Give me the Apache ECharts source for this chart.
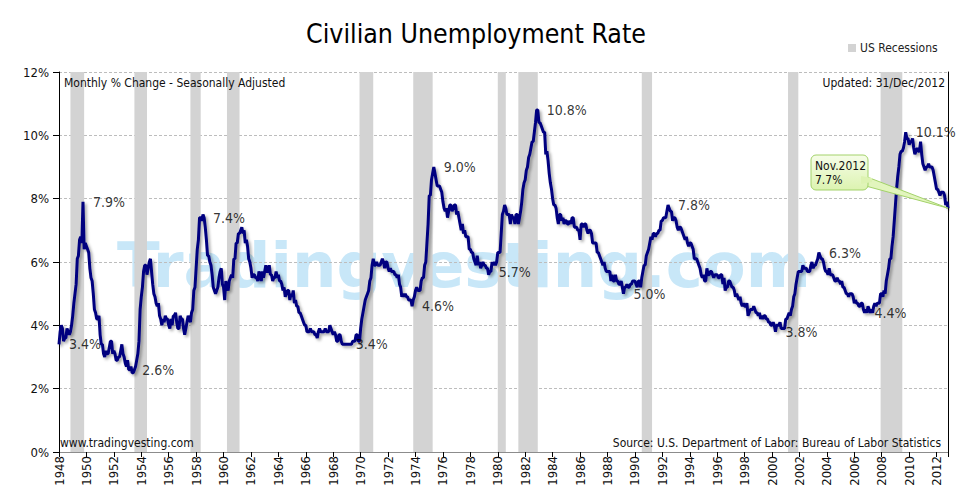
<!DOCTYPE html>
<html>
<head>
<meta charset="utf-8">
<script src="https://cdn.jsdelivr.net/npm/echarts@6/dist/echarts.min.js"></script>
<style>
html,body{margin:0;padding:0;background:#fff;}
#main{width:970px;height:500px;}
</style>
</head>
<body>
<div id="main"></div>
<script>
// Civilian unemployment rate (%), monthly, seasonally adjusted, Jan 1948 – Nov 2012
const startYear = 1948;
const rate1940s = [
/*1948*/3.4,3.8,4.0,3.9,3.5,3.6,3.6,3.9,3.8,3.7,3.8,4.0,
/*1949*/4.3,4.7,5.0,5.3,6.1,6.2,6.7,6.8,6.6,7.9,6.4,6.6
];
const rate1950s = [
/*1950*/6.5,6.4,6.3,5.8,5.5,5.4,5.0,4.5,4.4,4.2,4.2,4.3,
/*1951*/3.7,3.4,3.4,3.1,3.0,3.2,3.1,3.1,3.3,3.5,3.5,3.1,
/*1952*/3.2,3.1,2.9,2.9,3.0,3.0,3.2,3.4,3.1,3.0,2.8,2.7,
/*1953*/2.9,2.6,2.6,2.7,2.5,2.5,2.6,2.7,2.9,3.1,3.5,4.5,
/*1954*/4.9,5.2,5.7,5.9,5.9,5.6,5.8,6.0,6.1,5.7,5.3,5.0,
/*1955*/4.9,4.7,4.6,4.7,4.3,4.2,4.0,4.2,4.1,4.3,4.2,4.2,
/*1956*/4.0,3.9,4.2,4.0,4.3,4.3,4.4,4.1,3.9,3.9,4.3,4.2,
/*1957*/4.2,3.9,3.7,3.9,4.1,4.3,4.2,4.1,4.4,4.5,5.1,5.2,
/*1958*/5.8,6.4,6.7,7.4,7.4,7.3,7.5,7.4,7.1,6.7,6.2,6.2,
/*1959*/6.0,5.9,5.6,5.2,5.1,5.0,5.1,5.2,5.5,5.7,5.8,5.3
];
const rate1960s = [
/*1960*/5.2,4.8,5.4,5.2,5.1,5.4,5.5,5.6,5.5,6.1,6.1,6.6,
/*1961*/6.6,6.9,6.9,7.0,7.1,6.9,7.0,6.6,6.7,6.5,6.1,6.0,
/*1962*/5.8,5.5,5.6,5.6,5.5,5.5,5.4,5.7,5.6,5.4,5.7,5.5,
/*1963*/5.7,5.9,5.7,5.7,5.9,5.6,5.6,5.4,5.5,5.5,5.7,5.5,
/*1964*/5.6,5.4,5.4,5.3,5.1,5.2,4.9,5.0,5.1,5.1,4.8,5.0,
/*1965*/4.9,5.1,4.7,4.8,4.6,4.6,4.4,4.4,4.3,4.2,4.1,4.0,
/*1966*/4.0,3.8,3.8,3.8,3.9,3.8,3.8,3.8,3.7,3.7,3.6,3.8,
/*1967*/3.9,3.8,3.8,3.8,3.8,3.9,3.8,3.8,3.8,4.0,3.9,3.8,
/*1968*/3.7,3.8,3.7,3.5,3.5,3.7,3.7,3.5,3.4,3.4,3.4,3.4,
/*1969*/3.4,3.4,3.4,3.4,3.4,3.5,3.5,3.5,3.7,3.7,3.5,3.5
];
const rate1970s = [
/*1970*/3.9,4.2,4.4,4.6,4.8,4.9,5.0,5.1,5.4,5.5,5.9,6.1,
/*1971*/5.9,5.9,6.0,5.9,5.9,5.9,6.0,6.1,6.0,5.8,6.0,6.0,
/*1972*/5.8,5.7,5.8,5.7,5.7,5.7,5.6,5.6,5.5,5.6,5.3,5.2,
/*1973*/4.9,5.0,4.9,5.0,4.9,4.9,4.8,4.8,4.8,4.6,4.8,4.9,
/*1974*/5.1,5.2,5.1,5.1,5.1,5.4,5.5,5.5,5.9,6.0,6.6,7.2,
/*1975*/8.1,8.1,8.6,8.8,9.0,8.8,8.6,8.4,8.4,8.4,8.3,8.2,
/*1976*/7.9,7.7,7.6,7.7,7.4,7.6,7.8,7.8,7.6,7.7,7.8,7.8,
/*1977*/7.5,7.6,7.4,7.2,7.0,7.2,6.9,7.0,6.8,6.8,6.8,6.4,
/*1978*/6.4,6.3,6.3,6.1,6.0,5.9,6.2,5.9,6.0,5.8,5.9,6.0,
/*1979*/5.9,5.9,5.8,5.8,5.6,5.7,5.7,6.0,5.9,6.0,5.9,6.0
];
const rate1980s = [
/*1980*/6.3,6.3,6.3,6.9,7.5,7.6,7.8,7.7,7.5,7.5,7.5,7.2,
/*1981*/7.5,7.4,7.4,7.2,7.5,7.5,7.2,7.4,7.6,7.9,8.3,8.5,
/*1982*/8.6,8.9,9.0,9.3,9.4,9.6,9.8,9.8,10.1,10.4,10.8,10.8,
/*1983*/10.4,10.4,10.3,10.2,10.1,10.1,9.4,9.5,9.2,8.8,8.5,8.3,
/*1984*/8.0,7.8,7.8,7.7,7.4,7.2,7.5,7.5,7.3,7.4,7.2,7.3,
/*1985*/7.3,7.2,7.2,7.3,7.2,7.4,7.4,7.1,7.1,7.1,7.0,7.0,
/*1986*/6.7,7.2,7.2,7.1,7.2,7.2,7.0,6.9,7.0,7.0,6.9,6.6,
/*1987*/6.6,6.6,6.6,6.3,6.3,6.2,6.1,6.0,5.9,6.0,5.8,5.7,
/*1988*/5.7,5.7,5.7,5.4,5.6,5.4,5.4,5.6,5.4,5.4,5.3,5.3,
/*1989*/5.4,5.2,5.0,5.2,5.2,5.3,5.2,5.2,5.3,5.3,5.4,5.4
];
const rate1990s = [
/*1990*/5.4,5.3,5.2,5.4,5.4,5.2,5.5,5.7,5.9,5.9,6.2,6.3,
/*1991*/6.4,6.6,6.8,6.7,6.9,6.9,6.8,6.9,6.9,7.0,7.0,7.3,
/*1992*/7.3,7.4,7.4,7.4,7.6,7.8,7.7,7.6,7.6,7.3,7.4,7.4,
/*1993*/7.3,7.1,7.0,7.1,7.1,7.0,6.9,6.8,6.7,6.8,6.6,6.5,
/*1994*/6.6,6.6,6.5,6.4,6.1,6.1,6.1,6.0,5.9,5.8,5.6,5.5,
/*1995*/5.6,5.4,5.4,5.8,5.6,5.6,5.7,5.7,5.6,5.5,5.6,5.6,
/*1996*/5.6,5.5,5.5,5.6,5.6,5.3,5.5,5.1,5.2,5.2,5.4,5.4,
/*1997*/5.3,5.2,5.2,5.1,4.9,5.0,4.9,4.8,4.9,4.7,4.6,4.7,
/*1998*/4.6,4.6,4.7,4.3,4.4,4.5,4.5,4.5,4.6,4.5,4.4,4.4,
/*1999*/4.3,4.4,4.2,4.3,4.2,4.3,4.3,4.2,4.2,4.1,4.1,4.0
];
const rate2000s = [
/*2000*/4.0,4.1,4.0,3.8,4.0,4.0,4.0,4.1,3.9,3.9,3.9,3.9,
/*2001*/4.2,4.2,4.3,4.4,4.3,4.5,4.6,4.9,5.0,5.3,5.5,5.7,
/*2002*/5.7,5.7,5.7,5.9,5.8,5.8,5.8,5.7,5.7,5.7,5.9,6.0,
/*2003*/5.8,5.9,5.9,6.0,6.1,6.3,6.2,6.1,6.1,6.0,5.8,5.7,
/*2004*/5.7,5.6,5.8,5.6,5.6,5.6,5.5,5.4,5.4,5.5,5.4,5.4,
/*2005*/5.3,5.4,5.2,5.2,5.1,5.0,5.0,4.9,5.0,5.0,5.0,4.9,
/*2006*/4.7,4.8,4.7,4.7,4.6,4.6,4.7,4.7,4.5,4.4,4.5,4.4,
/*2007*/4.6,4.5,4.4,4.5,4.4,4.6,4.7,4.6,4.7,4.7,4.7,5.0,
/*2008*/5.0,4.9,5.1,5.0,5.4,5.6,5.8,6.1,6.1,6.5,6.8,7.3,
/*2009*/7.8,8.3,8.7,9.0,9.4,9.5,9.5,9.6,9.8,10.1,9.9,9.9
];
const rate2010s = [
/*2010*/9.7,9.8,9.8,9.9,9.6,9.4,9.5,9.6,9.5,9.5,9.8,9.4,
/*2011*/9.1,9.0,8.9,9.0,9.0,9.1,9.0,9.0,9.0,8.9,8.7,8.5,
/*2012*/8.3,8.3,8.2,8.1,8.2,8.2,8.2,8.1,7.8,7.9,7.7
];

// NBER recessions (first month, last month)
const recessionStart = ['1948-11','1953-07','1957-08','1960-04','1969-12','1973-11','1980-01','1981-07','1990-07','2001-03','2007-12'];
const recessionEnd   = ['1949-10','1954-05','1958-04','1961-02','1970-11','1975-03','1980-07','1982-11','1991-03','2001-11','2009-06'];

// Annotated values
const annotDates  = ['1948-01','1949-10','1953-05','1958-07','1968-12','1973-10','1975-05','1979-05','1982-11','1989-03','1992-06','2000-04','2003-06','2006-10','2009-10'];
const annotValues = [3.4, 7.9, 2.6, 7.4, 3.4, 4.6, 9.0, 5.7, 10.8, 5.0, 7.8, 3.8, 6.3, 4.4, 10.1];

// Axis ticks
const yMin = 0, yMax = 12, yStep = 2;
const xStep = 2;

const rates = [].concat(rate1940s, rate1950s, rate1960s, rate1970s, rate1980s, rate1990s, rate2000s, rate2010s);
const lineData = rates.map((v, i) => [startYear + i / 12, v]);
const lastPoint = lineData[lineData.length - 1];

function ym(s, endOfMonth) {
  const p = s.split('-');
  return +p[0] + (+p[1] - (endOfMonth ? 0 : 1)) / 12;
}
const monthNames = ['Jan','Feb','Mar','Apr','May','Jun','Jul','Aug','Sep','Oct','Nov','Dec'];

const FONT = "'DejaVu Sans Condensed', 'DejaVu Sans', sans-serif";

const chart = echarts.init(document.getElementById('main'), null, {renderer: 'svg'});

chart.setOption({
  animation: false,
  backgroundColor: '#ffffff',
  textStyle: {fontFamily: FONT},
  title: {
    text: 'Civilian Unemployment Rate',
    left: 471, top: 15, textAlign: 'center',
    textStyle: {fontFamily: FONT, fontSize: 26.5, fontWeight: 'normal', color: '#000'}
  },
  legend: {
    data: [{name: 'US Recessions', icon: 'rect'}],
    left: 843, top: 37,
    itemWidth: 8, itemHeight: 8, itemGap: 3,
    textStyle: {fontFamily: FONT, fontSize: 12, color: '#222', padding: [0,0,0,-1]}
  },
  grid: {left: 59, right: 22, top: 72, bottom: 48, containLabel: false},
  xAxis: [{
    type: 'value', min: startYear, max: lastPoint[0], interval: xStep,
    axisLine: {show: true, lineStyle: {color: '#000', width: 1}},
    axisTick: {show: true, length: 5, lineStyle: {color: '#000'}},
    axisLabel: {rotate: 90, fontSize: 13, color: '#111', margin: 4, fontFamily: FONT,
      formatter: v => (Math.abs(v - Math.round(v)) < 1e-6 ? String(Math.round(v)) : '')},
    splitLine: {show: false}
  }, {
    type: 'value', position: 'top', min: startYear, max: lastPoint[0],
    axisLine: {show: true, lineStyle: {color: '#8c8c8c', width: 1}},
    axisTick: {show: false}, axisLabel: {show: false}, splitLine: {show: false}
  }],
  yAxis: [{
    type: 'value', min: yMin, max: yMax, interval: yStep,
    axisLine: {show: true, lineStyle: {color: '#000', width: 1}},
    axisTick: {show: true, length: 6, lineStyle: {color: '#000'}},
    axisLabel: {formatter: '{value}%', fontSize: 13, color: '#111', margin: 10, fontFamily: FONT},
    splitLine: {show: true, lineStyle: {color: '#bdbdbd', type: [3, 2], width: 1}}
  }, {
    type: 'value', position: 'right', min: yMin, max: yMax,
    axisLine: {show: true, lineStyle: {color: '#000', width: 1}},
    axisTick: {show: false}, axisLabel: {show: false}, splitLine: {show: false}
  }],
  series: [{
    name: 'US Recessions', type: 'line', data: [], color: '#d3d3d3',
    itemStyle: {color: '#d3d3d3'}, silent: true,
    markArea: {
      silent: true,
      itemStyle: {color: '#d3d3d3', opacity: 1},
      data: recessionStart.map((s, i) => [{xAxis: ym(s, false)}, {xAxis: ym(recessionEnd[i], true)}])
    }
  }, {
    name: 'Unemployment', type: 'line', data: lineData, showSymbol: false, symbol: 'none',
    lineStyle: {color: '#00007f', width: 3, shadowColor: 'rgba(0,0,0,0.35)', shadowBlur: 3, shadowOffsetX: 2, shadowOffsetY: 2},
    z: 5, silent: true
  }, {
    name: 'Labels', type: 'scatter', symbolSize: 0, z: 6, silent: true,
    data: annotDates.map((d, i) => [ym(d, false), annotValues[i]]),
    label: {show: true, position: 'right', distance: 10, fontSize: 14, color: '#000', fontFamily: FONT,
      formatter: p => p.value[1].toFixed(1) + '%'}
  }]
});

// Graphics: watermark, notes, and callout for the latest value
const tip = chart.convertToPixel({xAxisIndex: 0, yAxisIndex: 0}, lastPoint);
const lastIdx = rates.length - 1;
const lastMonth = monthNames[lastIdx % 12] + '.' + (startYear + Math.floor(lastIdx / 12));
const boxX = 811, boxY = 155, boxW = 57, boxH = 35;
const fillGrad = new echarts.graphic.LinearGradient(0, 0, 0, 1, [{offset: 0, color: '#f6fde8'}, {offset: 1, color: '#dcf3b0'}]);
chart.setOption({
  graphic: [{
    id: 'wm', type: 'text', left: 117, top: 234, z: -10, silent: true,
    style: {text: 'Tradingvesting.com', font: "bold 62.5px 'DejaVu Sans', sans-serif", fill: '#c8e7f8'}
  }, {
    id: 'n1', type: 'text', left: 64, top: 77, z: 50, silent: true,
    style: {text: 'Monthly % Change - Seasonally Adjusted', font: "12px " + FONT, fill: '#111'}
  }, {
    id: 'n2', type: 'text', right: 25, top: 77, z: 50, silent: true,
    style: {text: 'Updated: 31/Dec/2012', font: "12px " + FONT, fill: '#111'}
  }, {
    id: 'n3', type: 'text', left: 60, top: 437, z: 50, silent: true,
    style: {text: 'www.tradingvesting.com', font: "12px " + FONT, fill: '#111'}
  }, {
    id: 'n4', type: 'text', right: 29, top: 437, z: 50, silent: true,
    style: {text: 'Source: U.S. Department of Labor: Bureau of Labor Statistics', font: "12px " + FONT, fill: '#111'}
  }, {
    id: 'cp', type: 'polygon', z: 60, silent: true,
    shape: {points: [[boxX + boxW - 6, boxY + 20], [boxX + boxW - 6, boxY + 30], tip]},
    style: {fill: '#e2f5bd', stroke: '#a3d26a', lineWidth: 1}
  }, {
    id: 'cb', type: 'rect', z: 61, silent: true,
    shape: {x: boxX, y: boxY, width: boxW, height: boxH, r: 5},
    style: {fill: fillGrad, stroke: '#a3d26a', lineWidth: 1}
  }, {
    id: 'cj', type: 'polygon', z: 62, silent: true,
    shape: {points: [[boxX + boxW - 7, boxY + 21], [boxX + boxW - 7, boxY + 29], [boxX + boxW + 4, boxY + 27], [boxX + boxW + 4, boxY + 23]]},
    style: {fill: '#ddf3b2'}
  }, {
    id: 'ct', type: 'text', z: 63, silent: true, left: boxX + 4, top: boxY + 4,
    style: {text: lastMonth + '\n' + lastPoint[1].toFixed(1) + '%', font: "12px " + FONT, fill: '#111', lineHeight: 14}
  }]
});
</script>
</body>
</html>
